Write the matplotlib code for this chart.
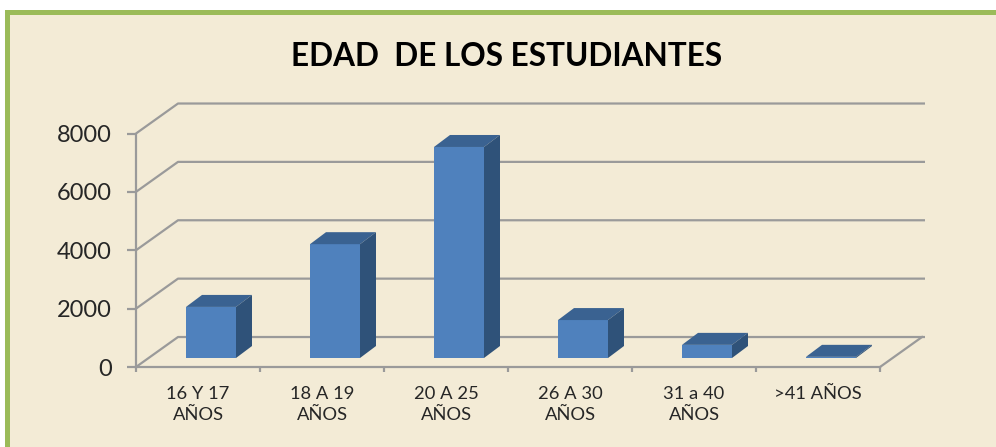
import numpy as np
from matplotlib import pyplot as plt
from matplotlib.patches import Polygon, Rectangle

categories = ['16 Y 17\nAÑOS', '18 A 19\nAÑOS', '20 A 25\nAÑOS', '26 A 30\nAÑOS', '31 a 40\nAÑOS', '>41 AÑOS']
values = [1750, 3900, 7230, 1300, 450, 40]
y_ticks = [0, 2000, 4000, 6000, 8000]

W, H = 996, 447
PX_X = 1 / 124.0        # data units per pixel
PX_Y = 2000 / 58.4

plt.rcParams['font.family'] = ['Lato', 'DejaVu Sans']

fig = plt.figure(figsize=(W / 100, H / 100), dpi=100, facecolor='white')

# green frame with beige panel, runs off the right and bottom edges
fig.add_artist(Rectangle((5 / W, 0), 1, 1 - 10 / H, transform=fig.transFigure, fc='#9bbb59', ec='none', zorder=-2))
fig.add_artist(Rectangle((10 / W, 0), 1, 1 - 15 / H, transform=fig.transFigure, fc='#f3ebd6', ec='none', zorder=-1))

fig.text(506.5 / W, 1 - 57 / H, 'EDAD  DE LOS ESTUDIANTES', ha='center', va='center',
         fontsize=22.7, fontweight='bold', color='black')

ax = fig.add_axes([136 / W, 1 - 367 / H, (880 - 136) / W, (367 - 133.5) / H])
ax.set_facecolor('none')
ax.set_xlim(0, 6)
ax.set_ylim(0, 8000)

grey = '#9a9a9a'
lw = 1.6
# depth of the back wall
wall_dx = 42 * PX_X
wall_dy = 30 * PX_Y
for t in y_ticks:
    ax.plot([0, wall_dx, 6 + 45 * PX_X], [t, t + wall_dy, t + wall_dy], color=grey, lw=lw,
            clip_on=False, zorder=1, solid_capstyle='butt')
ax.plot([6, 6 + wall_dx], [0, wall_dy], color=grey, lw=lw, clip_on=False, zorder=1)

# bars: front face from ax.bar, top and side are the same values pushed back
bar_w = 50 * PX_X
off_x = 13 * PX_X
off_y = 9 * PX_Y
dep_x = 16 * PX_X
dep_y = 12 * PX_Y
x = np.arange(len(values)) + 0.5 + off_x
ax.bar(x, values, width=bar_w, bottom=off_y, color='#4f81bd', edgecolor='none', zorder=3, clip_on=False)
for xi, v in zip(x, values):
    left, right = xi - bar_w / 2, xi + bar_w / 2
    base, top = off_y, off_y + v
    ax.add_patch(Polygon([(left, top), (right, top), (right + dep_x, top + dep_y), (left + dep_x, top + dep_y)],
                         closed=True, fc='#3a6291', ec='none', zorder=3, clip_on=False))
    ax.add_patch(Polygon([(right, base), (right + dep_x, base + dep_y), (right + dep_x, top + dep_y), (right, top)],
                         closed=True, fc='#2f5279', ec='none', zorder=3, clip_on=False))

for s in ['top', 'right']:
    ax.spines[s].set_visible(False)
for s in ['left', 'bottom']:
    ax.spines[s].set_color(grey)
    ax.spines[s].set_linewidth(lw)

ax.set_yticks(y_ticks)
ax.set_yticklabels([str(t) for t in y_ticks], fontsize=17, color='#262626')
ax.tick_params(axis='y', length=6.5, width=lw, color=grey, pad=11)
ax.set_xticks(range(7))
ax.set_xticklabels([])
ax.tick_params(axis='x', which='major', length=3.5, width=lw, color=grey)
ax.set_xticks(np.arange(6) + 0.5, minor=True)
ax.set_xticklabels(categories, minor=True, fontsize=13.2, color='#262626', linespacing=1.33)
ax.tick_params(axis='x', which='minor', length=0, pad=14)

fig.savefig('out.png', dpi=100)
